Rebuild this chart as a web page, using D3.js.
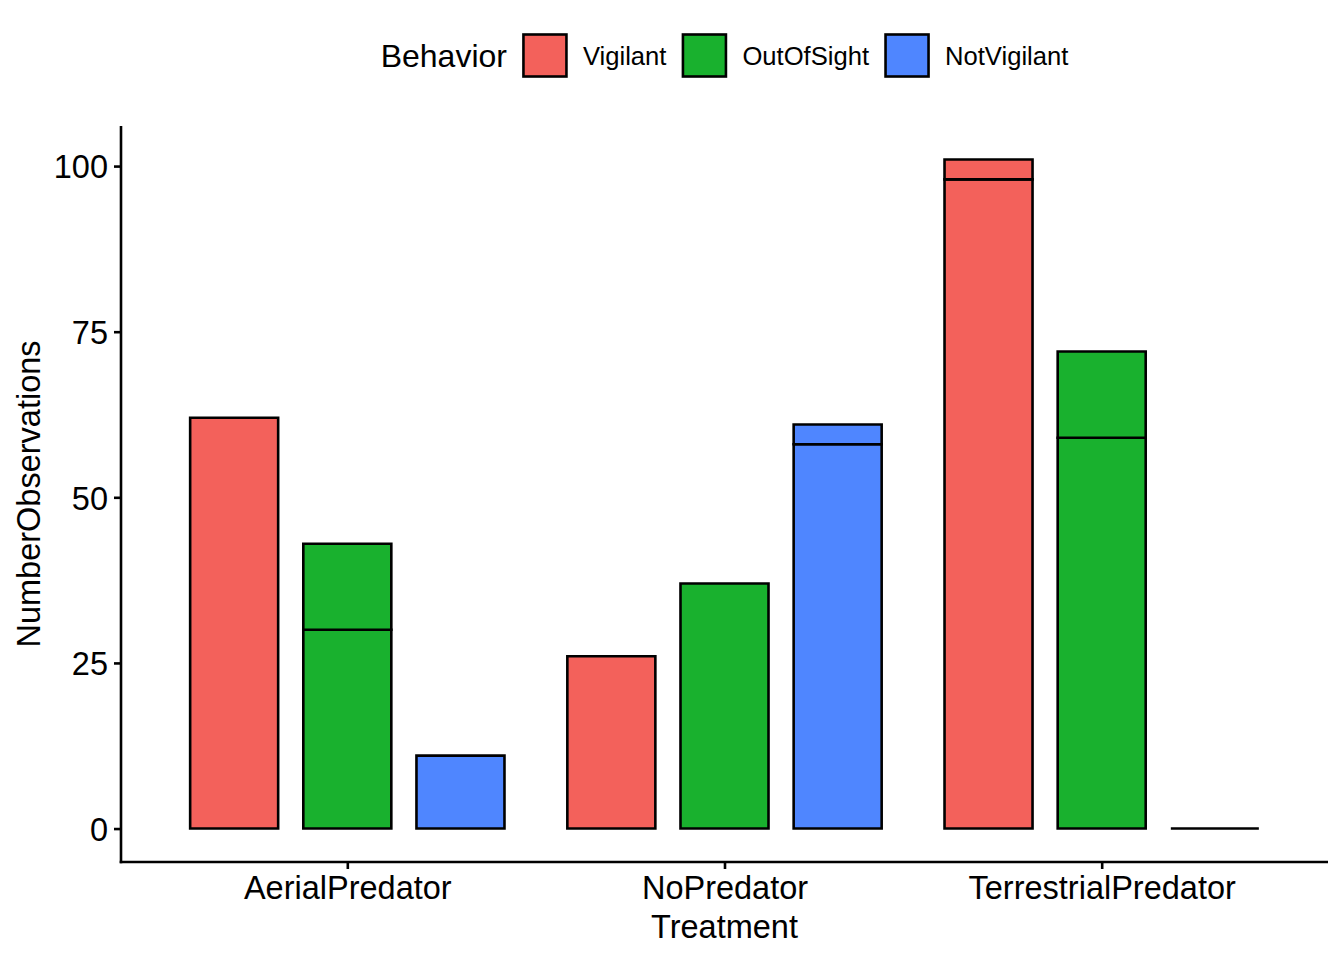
<!DOCTYPE html>
<html>
<head>
<meta charset="utf-8">
<script src="https://cdn.jsdelivr.net/npm/d3@7"></script>
<style>
  html, body { margin: 0; padding: 0; background: #ffffff; }
  svg text { font-family: "Liberation Sans", Arial, Helvetica, sans-serif; fill: #000; }
</style>
</head>
<body>
<svg id="chart" width="1344" height="960"></svg>
<script>
// ---- data ----
const treatments = ["AerialPredator", "NoPredator", "TerrestrialPredator"];
const behaviors = ["Vigilant", "OutOfSight", "NotVigilant"];
const behaviorColors = ["#F3615B", "#19B12E", "#4F86FF"];
// stacked segments per behavior (lower part, upper part), one value per treatment
const vigilantLower    = [62, 26, 98];
const vigilantUpper    = [0, 0, 3];
const outOfSightLower  = [30, 37, 59];
const outOfSightUpper  = [13, 0, 13];
const notVigilantLower = [11, 58, 0];
const notVigilantUpper = [0, 3, 0];
const yTicks = [0, 25, 50, 75, 100];
const xTitle = "Treatment";
const yTitle = "NumberObservations";
const legendTitle = "Behavior";

const segments = {
  Vigilant: [vigilantLower, vigilantUpper],
  OutOfSight: [outOfSightLower, outOfSightUpper],
  NotVigilant: [notVigilantLower, notVigilantUpper]
};

// ---- layout ----
const svg = d3.select("#chart");
const panel = { left: 121, right: 1328, top: 126, bottom: 862 };

const totals = [];
behaviors.forEach(b => treatments.forEach((t, i) => totals.push(segments[b][0][i] + segments[b][1][i])));
const yMax = d3.max(totals);
const ex = yMax * 0.05;

const x = d3.scalePoint().domain(treatments).range([panel.left, panel.right]).padding(0.6);
const step = x.step();
const xSub = d3.scaleBand().domain(behaviors)
  .range([-0.45 * step, 0.45 * step]).paddingInner(2 / 9).paddingOuter(1 / 9);
const y = d3.scaleLinear().domain([0 - ex, yMax + ex]).range([panel.bottom, panel.top]);
const color = d3.scaleOrdinal().domain(behaviors).range(behaviorColors);

// ---- bars ----
const rects = [];
behaviors.forEach(b => {
  treatments.forEach((t, i) => {
    const lo = segments[b][0][i], up = segments[b][1][i];
    rects.push({ b, t, y0: 0, y1: lo });
    if (up > 0) rects.push({ b, t, y0: lo, y1: lo + up });
  });
});

const lw = 2.6;
svg.append("g").selectAll("path").data(rects).join("path")
  .attr("d", d => {
    const x0 = x(d.t) + xSub(d.b), x1 = x0 + xSub.bandwidth();
    const ya = y(d.y0), yb = y(d.y1);
    return `M${x0},${ya}H${x1}V${yb}H${x0}Z`;
  })
  .attr("fill", d => color(d.b))
  .attr("stroke", "#000")
  .attr("stroke-width", lw)
  .attr("stroke-linejoin", "miter");

// ---- axes ----
const fs = 32.5;
const yAxis = svg.append("g").attr("transform", `translate(${panel.left},0)`)
  .call(d3.axisLeft(y).tickValues(yTicks).tickSize(7).tickSizeOuter(0).tickPadding(6));
const xAxis = svg.append("g").attr("transform", `translate(0,${panel.bottom})`)
  .call(d3.axisBottom(x).tickSize(7).tickSizeOuter(0).tickPadding(6));

[yAxis, xAxis].forEach(g => {
  g.select(".domain").remove();
  g.selectAll(".tick line").attr("stroke", "#000").attr("stroke-width", lw);
  g.selectAll(".tick text").style("font-size", fs + "px").attr("fill", "#000");
});
yAxis.selectAll(".tick text").attr("dy", "0.36em");
xAxis.selectAll(".tick text").attr("dy", "0.74em");

// axis lines
svg.append("line").attr("x1", panel.left).attr("x2", panel.left)
  .attr("y1", panel.top).attr("y2", panel.bottom + lw / 2)
  .attr("stroke", "#000").attr("stroke-width", lw);
svg.append("line").attr("x1", panel.left - lw / 2).attr("x2", panel.right)
  .attr("y1", panel.bottom).attr("y2", panel.bottom)
  .attr("stroke", "#000").attr("stroke-width", lw);

// axis titles
svg.append("text").attr("x", (panel.left + panel.right) / 2).attr("y", 938)
  .attr("text-anchor", "middle").style("font-size", fs + "px").text(xTitle);
svg.append("text")
  .attr("transform", `translate(40,${(panel.top + panel.bottom) / 2}) rotate(-90)`)
  .attr("text-anchor", "middle").style("font-size", fs + "px").text(yTitle);

// ---- legend ----
const legend = svg.append("g");
const keyW = 43, keyH = 42, gap = 16.5, cy = 55.5;
const lt = legend.append("text").attr("x", 0).attr("y", cy + 11.5)
  .style("font-size", "32px").text(legendTitle);
let cx = lt.node().getComputedTextLength() + gap;
behaviors.forEach((b, i) => {
  legend.append("rect").attr("x", cx).attr("y", cy - keyH / 2)
    .attr("width", keyW).attr("height", keyH)
    .attr("fill", color(b)).attr("stroke", "#000").attr("stroke-width", lw);
  cx += keyW + gap;
  const tx = legend.append("text").attr("x", cx).attr("y", cy + 9)
    .style("font-size", "25.6px").text(b);
  cx += tx.node().getComputedTextLength();
  if (i < behaviors.length - 1) cx += gap;
});
const legendW = cx;
legend.attr("transform", `translate(${(panel.left + panel.right) / 2 - legendW / 2},0)`);
</script>
</body>
</html>
